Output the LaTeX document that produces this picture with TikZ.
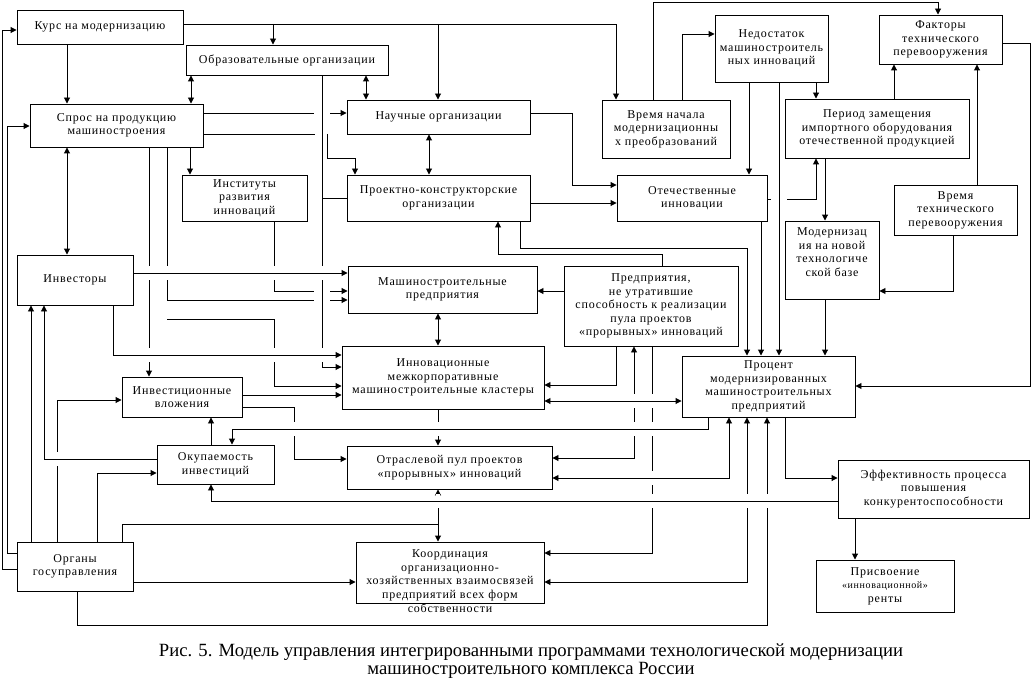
\documentclass[tikz,border=0pt]{standalone}
\usepackage{fontspec}
\setmainfont{Liberation Serif}
\newfontfamily\nodefont[LetterSpace=6.5]{Liberation Serif}
\usetikzlibrary{arrows.meta,fit}
\newcommand\gapV[2]{\fill[white] ({#1-2},{#2-7}) rectangle ({#1+2},{#2+7}); \draw ({#1-3},#2) -- ({#1+3},#2);}
\newcommand\gapH[2]{\fill[white] ({#1-8},{#2-2}) rectangle ({#1+8},{#2+2}); \draw (#1,{#2-3}) -- (#1,{#2+3});}
\newcommand\fs{\nodefont\fontsize{9}{10.2}\selectfont}
\tikzset{
  box/.style={draw, inner sep=0pt},
  txt/.style={inner sep=0pt, align=center, font=\fs},
  arr/.style={-{Triangle[length=4.5pt,width=4.5pt]}},
  darr/.style={{Triangle[length=4.5pt,width=4.5pt]}-{Triangle[length=4.5pt,width=4.5pt]}},
}
\newcommand\bx[6]{\node[box, fit={(#2,#3)(#4,#5)}] (#1) {}; \node[txt] at (#1.center) {#6};}
\begin{document}
\begin{tikzpicture}[x=0.75pt,y=-0.75pt,line width=0.7pt]
\fill[white] (0,0) rectangle (1031,688);
\useasboundingbox (0,0) rectangle (1031,688);

% boxes
\bx{kurs}{17}{10}{183}{44}{Курс на модернизацию}
\bx{obraz}{186}{45}{388}{75}{Образовательные организации}
\bx{spros}{30}{104}{203}{147}{Спрос на продукцию\\машиностроения}
\bx{inst}{182}{175}{307}{221}{Институты\\развития\\инноваций}
\bx{nauch}{347}{100}{530}{134}{Научные организации}
\bx{proekt}{347}{175}{530}{221}{Проектно-конструкторские\\организации}
\bx{vnach}{602}{100}{730}{158}{Время начала\\модернизационны\\х преобразований}
\bx{otech}{617}{175}{767}{221}{Отечественные\\инновации}
\bx{nedost}{715}{15}{828}{82}{Недостаток\\машиностроитель\\ных инноваций}
\bx{faktory}{879}{15}{1002}{64}{Факторы\\технического\\перевооружения}
\bx{period}{785}{99}{969}{158}{Период замещения\\импортного оборудования\\отечественной продукцией}
\bx{vtech}{894}{185}{1017}{235}{Время\\технического\\перевооружения}
\node[box, fit={(785,221)(879,299)}] (moderniz) {};
\node[txt] at (832,252) {Модернизац\\ия на новой\\технологиче\\ской базе};
\bx{investors}{17}{255}{133}{305}{Инвесторы}
\bx{mash}{348}{266}{537}{313}{Машиностроительные\\предприятия}
\bx{predpr}{564}{266}{738}{346}{Предприятия,\\не утратившие\\способность к реализации\\пула проектов\\«прорывных» инноваций}
\bx{klast}{342}{346}{544}{409}{Инновационные\\межкорпоративные\\машиностроительные кластеры}
\bx{procent}{682}{356}{855}{417}{Процент\\модернизированных\\машиностроительных\\предприятий}
\bx{invvl}{122}{377}{242}{417}{Инвестиционные\\вложения}
\bx{okup}{157}{445}{274}{484}{Окупаемость\\инвестиций}
\bx{otrasl}{347}{446}{552}{489}{Отраслевой пул проектов\\«прорывных» инноваций}
\bx{effekt}{838}{460}{1029}{518}{Эффективность процесса\\повышения\\конкурентоспособности}
\bx{prisv}{816}{560}{954}{612}{Присвоение\\{\fontsize{7.5}{10.2}\selectfont«инновационной»}\\ренты}
\bx{organy}{17}{542}{133}{591}{Органы\\госуправления}
\node[box, fit={(356,542)(544,603)}] (koord) {};
\node[txt] at (450,581) {Координация\\организационно-\\хозяйственных взаимосвязей\\предприятий всех форм\\собственности};

% Kurs
\draw[arr] (kurs.east |- 0,24) -- (616,24) -- (vnach.north -| 616,0);
\draw[arr] (273,24) -- (obraz.north -| 273,0);
\draw[arr] (438,24) -- (nauch.north -| 438,0);
\draw[arr] (kurs.south -| 67,0) -- (spros.north -| 67,0);
% Organy -> Kurs, Spros
\draw[arr] (organy.west |- 0,569) -- (2,569) -- (2,30) -- (kurs.west |- 0,30);
\draw[arr] (organy.west |- 0,553) -- (7,553) -- (7,126) -- (spros.west |- 0,126);
% Obraz
\draw[darr] (obraz.south -| 191,0) -- (spros.north -| 191,0);
\draw[darr] (obraz.south -| 366,0) -- (nauch.north -| 366,0);
\draw[arr] (obraz.south -| 322,0) -- (322,367) -- (klast.west |- 0,367);
\draw (322,198) -- (proekt.west |- 0,198);
% Spros
\draw[arr] (spros.east |- 0,113) -- (nauch.west |- 0,113);
\draw (spros.east |- 0,134) -- (315,134);
\draw[arr] (327,134) -- (327,158) -- (355,158) -- (proekt.north -| 355,0);
\draw[arr] (spros.south -| 190,0) -- (inst.north -| 190,0);
\draw[darr] (spros.south -| 67,0) -- (investors.north -| 67,0);
\draw[arr] (spros.south -| 149,0) -- (invvl.north -| 149,0);
\draw[arr] (spros.south -| 167,0) -- (167,300) -- (mash.west |- 0,300);
\draw[arr] (167,319) -- (274,319) -- (274,386) -- (klast.west |- 0,386);
% Inst
\draw[arr] (inst.south -| 274,0) -- (274,291) -- (mash.west |- 0,291);
% Nauch
\draw[darr] (nauch.south -| 429,0) -- (proekt.north -| 429,0);
\draw[arr] (nauch.east |- 0,113) -- (572,113) -- (572,185) -- (otech.west |- 0,185);
% Proekt
\draw[arr] (proekt.east |- 0,203) -- (otech.west |- 0,203);
\draw[arr] (proekt.south -| 520,0) -- (520,248) -- (747,248) -- (procent.north -| 747,0);
\draw[arr] (predpr.north -| 662,0) -- (662,254) -- (498,254) -- (proekt.south -| 498,0);
% Vremya nachala
\draw[arr] (vnach.north -| 682,0) -- (682,34) -- (nedost.west |- 0,34);
\draw[arr] (vnach.north -| 653,0) -- (653,2) -- (938,2) -- (faktory.north -| 938,0);
% Nedostatok
\draw[arr] (nedost.south -| 749,0) -- (otech.north -| 749,0);
\draw[arr] (nedost.south -| 816,0) -- (period.north -| 816,0);
\draw[arr] (nedost.south -| 779,0) -- (procent.north -| 779,0);
% Otech
\draw[arr] (otech.south -| 761,0) -- (procent.north -| 761,0);
\draw[arr] (otech.east |- 0,199) -- (816,199) -- (period.south -| 816,0);
% Period, Vremya tech, Faktory, Moderniz
\draw[arr] (period.north -| 894,0) -- (faktory.south -| 894,0);
\draw[arr] (period.south -| 825,0) -- (moderniz.north -| 825,0);
\draw[arr] (vtech.north -| 977,0) -- (faktory.south -| 977,0);
\draw[arr] (vtech.south -| 953,0) -- (953,291) -- (moderniz.east |- 0,291);
\draw[arr] (faktory.east |- 0,43) -- (1030,43) -- (1030,386) -- (procent.east |- 0,386);
\draw[arr] (moderniz.south -| 825,0) -- (procent.north -| 825,0);
% Investors
\draw[arr] (investors.east |- 0,273) -- (mash.west |- 0,273);
\draw[arr] (investors.south -| 113,0) -- (113,355) -- (klast.west |- 0,355);
\draw[arr] (organy.north -| 31,0) -- (investors.south -| 31,0);
\draw[arr] (okup.west |- 0,459) -- (44,459) -- (investors.south -| 44,0);
% Organy
\draw[arr] (organy.north -| 57,0) -- (57,400) -- (invvl.west |- 0,400);
\draw[arr] (organy.north -| 97,0) -- (97,473) -- (okup.west |- 0,473);
\draw (organy.north -| 122,0) -- (122,524) -- (438,524);
\draw[arr] (438,524) -- (otrasl.south -| 438,0);
\draw[arr] (438,524) -- (koord.north -| 438,0);
\draw[arr] (organy.east |- 0,582) -- (koord.west |- 0,582);
\draw[arr] (organy.south -| 77,0) -- (77,625) -- (767,625) -- (procent.south -| 767,0);
% Invvl, Okup
\draw[arr] (invvl.east |- 0,395) -- (klast.west |- 0,395);
\draw[arr] (invvl.east |- 0,407) -- (294,407) -- (294,459) -- (otrasl.west |- 0,459);
\draw[arr] (okup.north -| 211,0) -- (invvl.south -| 211,0);
% Mash, Predpr
\draw[darr] (mash.south -| 438,0) -- (klast.north -| 438,0);
\draw[arr] (predpr.west |- 0,291) -- (mash.east |- 0,291);
\draw[arr] (predpr.south -| 616,0) -- (616,385) -- (klast.east |- 0,385);
\draw[darr] (otrasl.east |- 0,458) -- (634,458) -- (predpr.south -| 634,0);
\draw[arr] (predpr.south -| 652,0) -- (652,553) -- (koord.east |- 0,553);
% Klast
\draw[darr] (klast.east |- 0,401) -- (procent.west |- 0,401);
\draw[arr] (klast.south -| 438,0) -- (otrasl.north -| 438,0);
% Procent
\draw[arr] (procent.south -| 708,0) -- (708,429) -- (232,429) -- (okup.north -| 232,0);
\draw[darr] (otrasl.east |- 0,478) -- (729,478) -- (procent.south -| 729,0);
\draw[darr] (koord.east |- 0,582) -- (747,582) -- (procent.south -| 747,0);
\draw[arr] (procent.south -| 785,0) -- (785,478) -- (effekt.west |- 0,478);
% Effekt
\draw[arr] (effekt.west |- 0,501) -- (211,501) -- (okup.south -| 211,0);
\draw[arr] (effekt.south -| 855,0) -- (prisv.north -| 855,0);

% line crossings
\gapV{149}{273}\gapV{167}{273}\gapV{274}{273}\gapV{322}{273}
\gapV{149}{355}\gapV{274}{355}\gapV{322}{355}
\gapV{57}{459}\gapV{294}{429}\gapV{438}{429}
\gapV{634}{401}\gapV{652}{401}\gapV{634}{429}\gapV{652}{429}
\gapV{652}{478}\gapV{652}{501}\gapV{438}{501}\gapV{747}{501}\gapV{767}{501}
\gapH{322}{113}\gapH{322}{291}\gapH{322}{300}\gapH{779}{199}

% caption
\node[inner sep=0pt, align=center, font=\fontsize{14}{13.5}\selectfont] (cap) at (531,661)
  {Рис. 5. Модель управления интегрированными программами технологической модернизации\\машиностроительного комплекса России};
\end{tikzpicture}
\end{document}
